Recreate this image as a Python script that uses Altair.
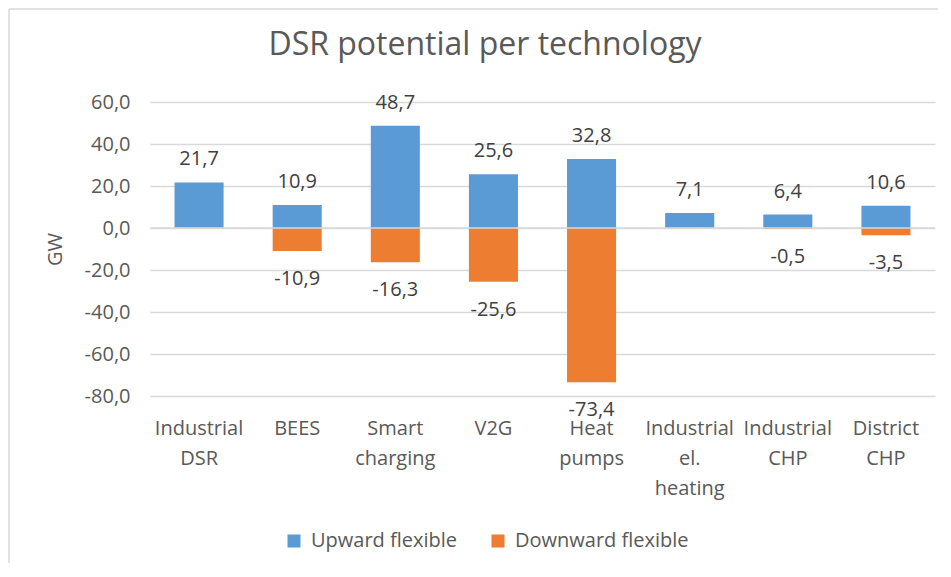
import altair as alt
import pandas as pd

categories = ["Industrial DSR", "BEES", "Smart charging", "V2G", "Heat pumps",
              "Industrial el. heating", "Industrial CHP", "District CHP"]
upward = [21.7, 10.9, 48.7, 25.6, 32.8, 7.1, 6.4, 10.6]
downward = [None, -10.9, -16.3, -25.6, -73.4, None, -0.5, -3.5]
series = ["Upward flexible", "Downward flexible"]
colors = ["#5B9BD5", "#ED7D31"]
y_ticks = [60, 40, 20, 0, -20, -40, -60, -80]
chart_title = "DSR potential per technology"

rows = []
for c, u, d in zip(categories, upward, downward):
    rows.append({"category": c, "series": series[0], "value": u})
    if d is not None:
        rows.append({"category": c, "series": series[1], "value": d})
df = pd.DataFrame(rows)

FONT = "Open Sans"
TXT = "#595959"
fmt = "(datum.value < 0 ? '-' : '') + replace(format(abs(datum.value), '.1f'), '.', ',')"

x_enc = alt.X(
    "category:N", sort=categories, title=None,
    scale=alt.Scale(paddingInner=0.5, paddingOuter=0.25),
    axis=alt.Axis(labelExpr="split(datum.value, ' ')", labelAngle=0, labelFontSize=20,
                  labelColor=TXT, labelFont=FONT, labelPadding=22, labelLineHeight=30,
                  ticks=False, domain=False, grid=False, labelLimit=300),
)
y_enc = alt.Y(
    "value:Q", stack=None,
    scale=alt.Scale(domain=[-80, 60], nice=False, zero=False),
    axis=alt.Axis(values=y_ticks, labelExpr=fmt, labelFontSize=20, labelFont=FONT,
                  labelColor=TXT, labelPadding=20, ticks=False, domain=False,
                  gridColor="#d9d9d9", gridWidth=1.5,
                  title="GW", titleFont=FONT, titleFontSize=20, titleColor=TXT,
                  titleFontWeight="normal", titleAngle=270, titleX=-95, titleY=147,
                  titleAlign="center", titleBaseline="middle"),
)

base = alt.Chart(df)

bars = base.mark_bar().encode(
    x=x_enc, y=y_enc,
    color=alt.Color("series:N", sort=series,
                    scale=alt.Scale(domain=series, range=colors),
                    legend=alt.Legend(orient="none", legendX=134, legendY=429,
                                      direction="horizontal", title=None,
                                      labelFontSize=20, labelFont=FONT, labelColor=TXT,
                                      labelLimit=400,
                                      symbolType="square", symbolSize=170,
                                      symbolStrokeWidth=0, labelOffset=7,
                                      columnPadding=30, padding=0)),
)

lab = base.transform_calculate(
    label="(datum.value < 0 ? '-' : '') + replace(format(abs(datum.value), '.1f'), '.', ',')"
)
up_text = lab.transform_filter(alt.datum.value >= 0).mark_text(
    dy=-17, baseline="alphabetic", fontSize=20, font=FONT, color="#404040"
).encode(x=alt.X("category:N", sort=categories), y=alt.Y("value:Q"), text="label:N")
down_text = lab.transform_filter(alt.datum.value < 0).mark_text(
    dy=34, baseline="alphabetic", fontSize=20, font=FONT, color="#404040"
).encode(x=alt.X("category:N", sort=categories), y=alt.Y("value:Q"), text="label:N")

zero = alt.Chart(pd.DataFrame({"z": [0]})).mark_rule(color="#d9d9d9", strokeWidth=1.5).encode(
    y=alt.datum(0)
)

frame_df = pd.DataFrame({"a": [0]})
left_border = alt.Chart(frame_df).mark_rule(color="#d9d9d9", strokeWidth=1.5).encode(
    x=alt.value(-141), y=alt.value(-93), y2=alt.value(470)
)
top_border = alt.Chart(frame_df).mark_rule(color="#d9d9d9", strokeWidth=1.5).encode(
    x=alt.value(-141), x2=alt.value(790), y=alt.value(-93)
)
title_text = alt.Chart(pd.DataFrame({"t": [chart_title]})).mark_text(
    fontSize=32, font=FONT, color=TXT, align="center", baseline="alphabetic"
).encode(x=alt.value(335), y=alt.value(-47), text="t:N")

chart = alt.layer(bars, zero, up_text, down_text, left_border, top_border, title_text).properties(
    width=785, height=294,
    autosize=alt.AutoSizeParams(type="none"),
    padding={"left": 142, "top": 94, "right": 3, "bottom": 167},
    background="white",
).configure_view(stroke=None)

chart.save("out.html", embed_options={"renderer": "svg", "actions": False})
